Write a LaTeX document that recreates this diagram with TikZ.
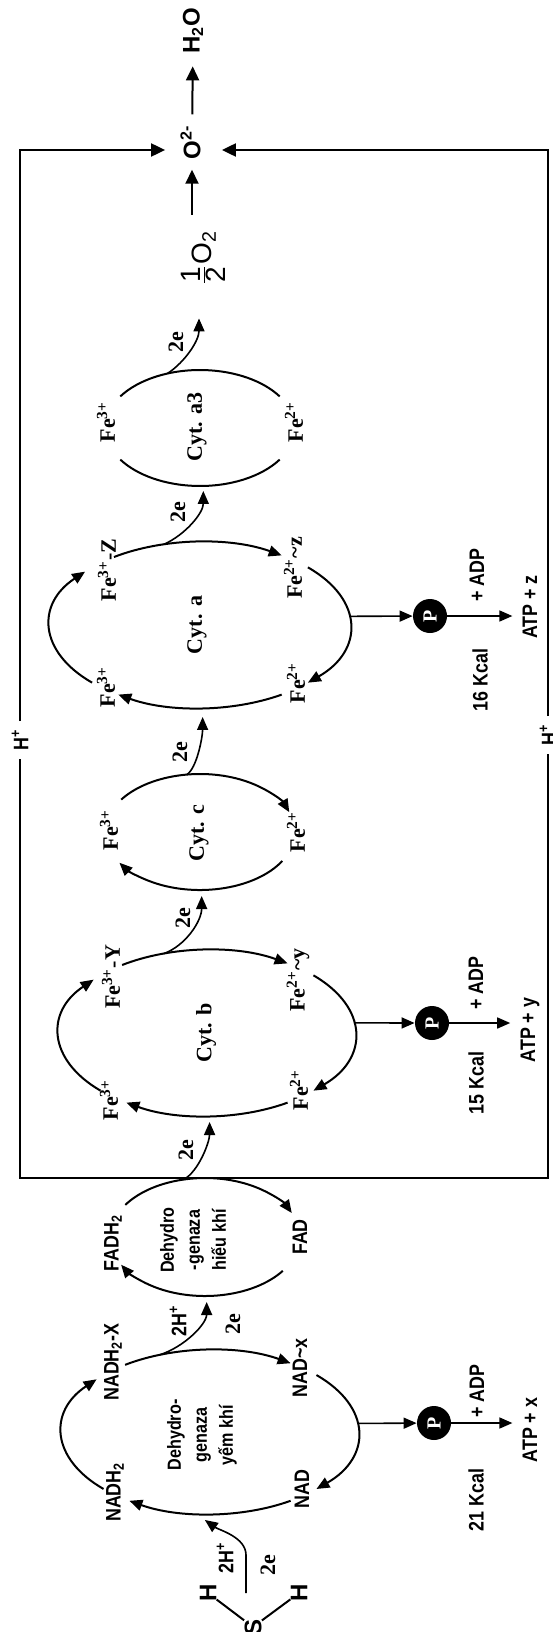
\documentclass[tikz,border=0pt]{standalone}
\usepackage{fontspec}
\setmainfont{Liberation Sans}
\newfontfamily\nsf{Liberation Sans}[FakeStretch=0.85]
\newfontfamily\sfb{Liberation Serif}
\usetikzlibrary{calc,arrows.meta}

\begin{document}
\begin{tikzpicture}[x=0.5pt, y=-0.5pt,
    vong/.style={line width=1pt},
    mui/.style={-{Triangle[length=6.5pt,width=5.5pt]}},
    muilon/.style={-{Triangle[length=7pt,width=6.5pt]}},
    chu/.style={rotate=90, inner sep=0pt, font=\nsf\bfseries\fontsize{10.5}{12}\selectfont},
    fe/.style={rotate=90, inner sep=0pt, font=\sfb\bfseries\fontsize{11}{12}\selectfont},
    enzym/.style={rotate=90, inner sep=0pt, align=center, font=\nsf\bfseries\fontsize{9.5}{13}\selectfont},
    photphat/.style={circle, fill=black, minimum size=17pt, inner sep=0pt, text=white, rotate=90,
      font=\sfb\bfseries\fontsize{10}{10}\selectfont}]
    \useasboundingbox (0,0) rectangle (552,1632);
    % oxy -> nuoc
    \node[chu, font=\bfseries\fontsize{12}{12}\selectfont, inner sep=6pt] (H2O) at (193,31) {H\textsubscript{2}O};
    \node[chu, font=\bfseries\fontsize{12}{12}\selectfont, inner sep=5pt] (O) at (192,150) {O\rlap{\smash{\textsuperscript{2-}}}};
    \node[rotate=90, inner sep=0pt, font=\fontsize{14}{16}\selectfont] (half) at (203,258) {$\frac{\mbox{1}}{\mbox{2}}$O\textsubscript{2}};
    \path[draw, line width=1pt, muilon, shorten <=8pt] (O) -- (H2O);
    \path[draw, line width=1pt, muilon, shorten <=8pt] (half.east -| O) -- (O);
    % khung H+
    \node[chu, inner sep=4pt] (Ht) at (20,740) {H\textsuperscript{+}};
    \node[chu, inner sep=4pt] (Hp) at (548,735) {H\textsuperscript{+}};
    \coordinate (gp) at (548,1178);
    \path[draw, line width=1pt, muilon, shorten >=4pt] (Ht.east) |- (O);
    \path[draw, line width=1pt, muilon, shorten >=5.5pt] (Hp.east) |- (O);
    \path[draw, line width=1pt] (Ht.west) |- (gp) -- (Hp.west);
    % tam cac vong
    \coordinate (cA3) at (200,428);
    \coordinate (cA) at (200,625);
    \coordinate (cC) at (200,832);
    \coordinate (cB) at (207,1033);
    \coordinate (cH) at (205,1237);
    \coordinate (cY) at (210,1432);
    % Cyt. a3
    \path[draw, vong] ($(cA3)+(-147:95 and 58)$) arc[start angle=-147, end angle=-33, x radius=95, y radius=58];
    \path[draw, vong] ($(cA3)+(33:95 and 58)$) arc[start angle=33, end angle=147, x radius=95, y radius=58];
    \node[fe] (a3t) at (106,422) {Fe\textsuperscript{3+}};
    \node[fe] (a3d) at (294,422) {Fe\textsuperscript{2+}};
    \node[fe] (tA3) at (197,427) {Cyt. a3};
    % Cyt. a
    \path[draw, vong, mui] ($(cA)+(-125:150 and 83)$) arc[start angle=-125, end angle=-57, x radius=150, y radius=83];
    \path[draw, vong, mui] ($(cA)+(-44:150 and 83)$) arc[start angle=-44, end angle=44, x radius=150, y radius=83];
    \path[draw, vong, mui] ($(cA)+(57:150 and 83)$) arc[start angle=57, end angle=123, x radius=150, y radius=83];
    \path[draw, vong, mui] ($(cA)+(136:150 and 83)$) arc[start angle=136, end angle=220, x radius=150, y radius=83];
    \node[fe] (aZ) at (107,570) {Fe\textsuperscript{3+}-Z};
    \node[fe] (az) at (293,568) {Fe\textsuperscript{2+}\textasciitilde z};
    \node[fe] (a3) at (106,687) {Fe\textsuperscript{3+}};
    \node[fe] (a2) at (296,683) {Fe\textsuperscript{2+}};
    \node[fe] (tA) at (197,625) {Cyt. a};
    % Cyt. c
    \path[draw, vong, mui] ($(cC)+(-146:95 and 58)$) arc[start angle=-146, end angle=-20, x radius=95, y radius=58];
    \path[draw, vong, mui] ($(cC)+(30:95 and 58)$) arc[start angle=30, end angle=148, x radius=95, y radius=58];
    \node[fe] (c3) at (109,830) {Fe\textsuperscript{3+}};
    \node[fe] (c2) at (296,832) {Fe\textsuperscript{2+}};
    \node[fe] (tC) at (199,833) {Cyt. c};
    % Cyt. b
    \path[draw, vong, mui] ($(cB)+(-125:148 and 83)$) arc[start angle=-125, end angle=-57, x radius=148, y radius=83];
    \path[draw, vong, mui] ($(cB)+(-44:148 and 83)$) arc[start angle=-44, end angle=44, x radius=148, y radius=83];
    \path[draw, vong, mui] ($(cB)+(57:148 and 83)$) arc[start angle=57, end angle=123, x radius=148, y radius=83];
    \path[draw, vong, mui] ($(cB)+(136:148 and 83)$) arc[start angle=136, end angle=220, x radius=148, y radius=83];
    \node[fe] (bY) at (111,977) {Fe\textsuperscript{3+}-Y};
    \node[fe] (by) at (298,980) {Fe\textsuperscript{2+}\textasciitilde y};
    \node[fe] (b3) at (109,1100) {Fe\textsuperscript{3+}};
    \node[fe] (b2) at (299,1090) {Fe\textsuperscript{2+}};
    \node[fe] (tB) at (206,1033) {Cyt. b};
    % dehydrogenaza hieu khi
    \path[draw, vong, mui] ($(cH)+(-147:95 and 59)$) arc[start angle=-147, end angle=-24, x radius=95, y radius=59];
    \path[draw, vong, mui] ($(cH)+(35:95 and 59)$) arc[start angle=35, end angle=152, x radius=95, y radius=59];
    \node[chu] (FADH) at (113,1243) {FADH\textsubscript{2}};
    \node[chu] (FAD) at (300,1237) {FAD};
    \node[enzym] (tH) at (193,1240) {Dehydro\\-genaza\\hiếu khí};
    % dehydrogenaza yem khi
    \path[draw, vong, mui] ($(cY)+(-125:148 and 82)$) arc[start angle=-125, end angle=-57, x radius=148, y radius=82];
    \path[draw, vong, mui] ($(cY)+(-44:148 and 82)$) arc[start angle=-44, end angle=44, x radius=148, y radius=82];
    \path[draw, vong, mui] ($(cY)+(57:148 and 82)$) arc[start angle=57, end angle=123, x radius=148, y radius=82];
    \path[draw, vong, mui] ($(cY)+(136:148 and 82)$) arc[start angle=136, end angle=220, x radius=148, y radius=82];
    \node[chu] (NADHX) at (113,1362) {NADH\textsubscript{2}-X};
    \node[chu] (NADx) at (300,1368) {NAD\textasciitilde x};
    \node[chu] (NADH) at (115,1492) {NADH\textsubscript{2}};
    \node[chu] (NAD) at (302,1489) {NAD};
    \node[enzym] (tY) at (202,1435) {Dehydro-\\genaza\\yếm khí};
    % chuyen 2e
    \path[draw, line width=0.8pt, mui] ($(cA3)+(-110:95 and 58)$) .. controls +(18,-12) and +(0,22) .. ($(half.west)+(-4,33)$);
    \path[draw, line width=0.8pt, mui] ($(cA)+(-104:150 and 83)$) .. controls +(22,-10) and +(0,22) .. ($(cA3)+(88:95 and 63)$);
    \path[draw, line width=0.8pt, mui] ($(cC)+(-98:95 and 58)$) .. controls +(10,-6) and +(0,20) .. ($(cA)+(89:150 and 92)$);
    \path[draw, line width=0.8pt, mui] ($(cB)+(-107:148 and 83)$) .. controls +(22,-8) and +(0,25) .. ($(cC)+(89:95 and 64)$);
    \path[draw, line width=0.8pt, mui] ($(cH)+(-103:95 and 59)$) .. controls +(15,-8) and +(0,20) .. ($(cB)+(89:148 and 89)$);
    \path[draw, line width=0.8pt, mui] ($(cY)+(-110:148 and 82)$) .. controls +(25,-8) and +(0,22) .. ($(cH)+(89:95 and 65)$);
    \node[fe] (e1) at (176,342) {2e};
    \node[fe] (e2) at (178,512) {2e};
    \node[fe] (e3) at (180,752) {2e};
    \node[fe] (e4) at (183,918) {2e};
    \node[fe] (e5) at (186,1150) {2e};
    \node[chu] (h5) at (178,1321) {2H\textsuperscript{+}};
    \node[fe] (e6) at (233,1324) {2e};
    % H-S-H
    \node[chu, font=\bfseries\fontsize{12}{12}\selectfont] (H1) at (208,1593) {H};
    \node[chu, font=\bfseries\fontsize{12}{12}\selectfont] (H2) at (299,1593) {H};
    \node[chu, font=\bfseries\fontsize{12}{12}\selectfont] (S) at (253,1627) {S};
    \path[draw, line width=1pt] (H1) -- (S);
    \path[draw, line width=1pt] (H2) -- (S);
    \coordinate (sH) at (246,1593);
    \path[draw, line width=0.8pt, mui] (sH) -- ++(0,-38) .. controls +(0,-18) and +(14,10) .. ($(cY)+(92:148 and 88)$);
    \node[chu] (h7) at (225,1558) {2H\textsuperscript{+}};
    \node[fe] (e7) at (268,1565) {2e};
    % photphoryl hoa
    \node[photphat] (PA) at (430,616) {P};
    \node[chu] (ATPz) at (530,607) {ATP + z};
    \node[chu] (ADPz) at (477,575) {+ ADP};
    \node[chu] (Kz) at (480,680) {16 Kcal};
    \path[draw, line width=0.8pt, mui] ($(cA)+(-6:150 and 83)$) -- (PA);
    \path[draw, line width=0.8pt, mui, shorten >=5pt] (PA) -- (PA -| ATPz.north);
    \node[photphat] (PB) at (432,1023) {P};
    \node[chu] (ATPy) at (530,1030) {ATP + y};
    \node[chu] (ADPy) at (476,983) {+ ADP};
    \node[chu] (Ky) at (476,1083) {15 Kcal};
    \path[draw, line width=0.8pt, mui] ($(cB)+(-7:148 and 83)$) -- (PB);
    \path[draw, line width=0.8pt, mui, shorten >=5pt] (PB) -- (PB -| ATPy.north);
    \node[photphat] (PY) at (434,1423) {P};
    \node[chu] (ATPx) at (530,1430) {ATP + x};
    \node[chu] (ADPx) at (477,1391) {+ ADP};
    \node[chu] (Kx) at (476,1500) {21 Kcal};
    \path[draw, line width=0.8pt, mui] ($(cY)+(-6:148 and 82)$) -- (PY);
    \path[draw, line width=0.8pt, mui, shorten >=5pt] (PY) -- (PY -| ATPx.north);
\end{tikzpicture}
\end{document}
